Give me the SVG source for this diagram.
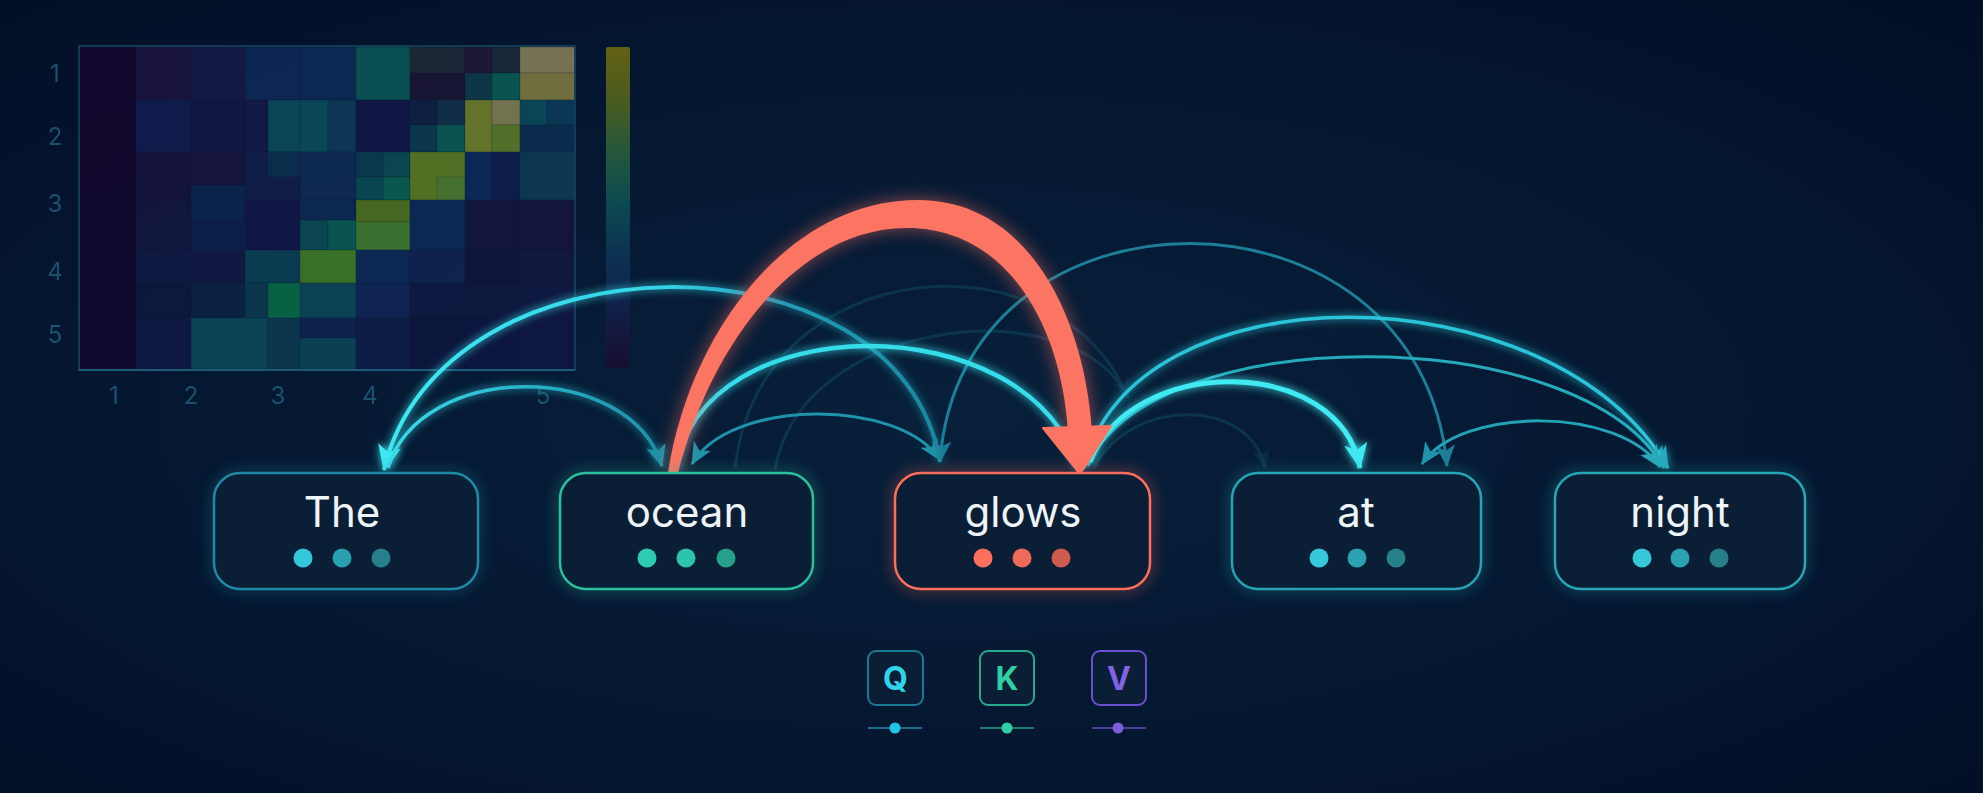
<svg xmlns="http://www.w3.org/2000/svg" width="1983" height="793" viewBox="0 0 1983 793">
<defs>
<radialGradient id="bg" cx="48%" cy="52%" r="75%">
<stop offset="0" stop-color="#08203a"/>
<stop offset="0.6" stop-color="#041630"/>
<stop offset="1" stop-color="#020e25"/>
</radialGradient>
<linearGradient id="cbar" x1="0" y1="0" x2="0" y2="1">
<stop offset="0" stop-color="#7a720c"/>
<stop offset="0.17" stop-color="#5a6c1c"/>
<stop offset="0.33" stop-color="#2c6640"/>
<stop offset="0.48" stop-color="#0e5656"/>
<stop offset="0.63" stop-color="#0e3a5a"/>
<stop offset="0.78" stop-color="#132652"/>
<stop offset="0.9" stop-color="#1a1740"/>
<stop offset="1" stop-color="#1a0c2e"/>
</linearGradient>
<linearGradient id="gA1" gradientUnits="userSpaceOnUse" x1="940" y1="0" x2="384" y2="0">
<stop offset="0" stop-color="#1b86a0"/>
<stop offset="0.3" stop-color="#229fb8"/>
<stop offset="0.5" stop-color="#33d4e6"/>
<stop offset="1" stop-color="#3ee8f2"/>
</linearGradient>
<linearGradient id="gA2" gradientUnits="userSpaceOnUse" x1="388" y1="0" x2="662" y2="0">
<stop offset="0" stop-color="#3adcea"/>
<stop offset="0.5" stop-color="#29b4ca"/>
<stop offset="1" stop-color="#1e8ea6"/>
</linearGradient>
<filter id="glow" x="-20%" y="-30%" width="140%" height="160%">
<feGaussianBlur in="SourceGraphic" stdDeviation="4" result="b"/>
<feMerge><feMergeNode in="b"/><feMergeNode in="SourceGraphic"/></feMerge>
</filter>
<filter id="soft" x="-20%" y="-30%" width="140%" height="160%">
<feGaussianBlur stdDeviation="7"/>
</filter>
<filter id="coralGlow" x="-20%" y="-20%" width="140%" height="140%">
<feGaussianBlur stdDeviation="9"/>
</filter>
<marker id="m-bright" viewBox="0 0 20 20" refX="19" refY="10" markerWidth="26" markerHeight="26" markerUnits="userSpaceOnUse" orient="auto-start-reverse"><path d="M0,1 L20,10 L0,19 L5,10 Z" fill="#3fe8f2"/></marker>
<marker id="m-cyan" viewBox="0 0 20 20" refX="19" refY="10" markerWidth="22" markerHeight="22" markerUnits="userSpaceOnUse" orient="auto-start-reverse"><path d="M0,1 L20,10 L0,19 L5,10 Z" fill="#2ecbdc"/></marker>
<marker id="m-teal" viewBox="0 0 20 20" refX="19" refY="10" markerWidth="22" markerHeight="22" markerUnits="userSpaceOnUse" orient="auto-start-reverse"><path d="M0,1 L20,10 L0,19 L5,10 Z" fill="#1f93ab"/></marker>
<marker id="m-dim" viewBox="0 0 20 20" refX="19" refY="10" markerWidth="22" markerHeight="22" markerUnits="userSpaceOnUse" orient="auto-start-reverse"><path d="M0,1 L20,10 L0,19 L5,10 Z" fill="#1b7d96"/></marker>
<marker id="m-night" viewBox="0 0 20 20" refX="19" refY="10" markerWidth="22" markerHeight="22" markerUnits="userSpaceOnUse" orient="auto-start-reverse"><path d="M0,1 L20,10 L0,19 L5,10 Z" fill="#27a9ba"/></marker>
<marker id="m-faint" viewBox="0 0 20 20" refX="19" refY="10" markerWidth="20" markerHeight="20" markerUnits="userSpaceOnUse" orient="auto-start-reverse"><path d="M0,1 L20,10 L0,19 L5,10 Z" fill="#1a6a82" fill-opacity="0.6"/></marker>
<style>
.box { fill:#0a1f35; stroke-width:2.5; }
.halo { fill:none; stroke-width:6; opacity:0.45; }
.lbl { font-family: Inter, "Noto Sans", sans-serif; font-size:42px; fill:#eef4f8; text-anchor:middle; }
.ax { font-family: Inter, "Noto Sans", sans-serif; font-size:24px; fill:#1c5876; text-anchor:middle; }
.arc { fill:none; stroke-linecap:butt; }
.faint { stroke:#1a6a82; stroke-width:3; opacity:0.3; }
.qkv { font-family: Inter, "Liberation Sans", sans-serif; font-size:32px; font-weight:700; text-anchor:middle; }
.qbox { fill:#0a1e36; stroke-width:2; }
.cells rect { stroke:#0a1430; stroke-width:0.4; stroke-opacity:0.5; }
</style>
</defs>

<rect x="0" y="0" width="1983" height="793" fill="url(#bg)"/>

<g id="heatmap" opacity="0.9">
<g class="cells">
<rect x="80" y="47" width="56" height="53" fill="#14082e"/>
<rect x="136" y="47" width="55" height="53" fill="#1a1440"/>
<rect x="191" y="47" width="54" height="53" fill="#171a48"/>
<rect x="245" y="47" width="55" height="53" fill="#0f2857"/>
<rect x="300" y="47" width="56" height="53" fill="#0f2a58"/>
<rect x="356" y="47" width="54" height="53" fill="#0a5555"/>
<rect x="410" y="47" width="55" height="26" fill="#1e2a38"/>
<rect x="410" y="73" width="55" height="27" fill="#1a1535"/>
<rect x="465" y="47" width="27" height="26" fill="#201a36"/>
<rect x="492" y="47" width="28" height="26" fill="#1a2a38"/>
<rect x="465" y="73" width="27" height="27" fill="#0e3a4a"/>
<rect x="492" y="73" width="28" height="27" fill="#0a5a55"/>
<rect x="520" y="47" width="54.5" height="26" fill="#847c58"/>
<rect x="520" y="73" width="54.5" height="27" fill="#7a7840"/>

<rect x="80" y="100" width="56" height="52" fill="#14082e"/>
<rect x="136" y="100" width="55" height="52" fill="#111d50"/>
<rect x="191" y="100" width="54" height="52" fill="#141845"/>
<rect x="245" y="100" width="23" height="52" fill="#141a48"/>
<rect x="268" y="100" width="32" height="52" fill="#0b4a5c"/>
<rect x="300" y="100" width="28" height="52" fill="#0b4c5c"/>
<rect x="328" y="100" width="28" height="52" fill="#0d3a58"/>
<rect x="356" y="100" width="54" height="52" fill="#131848"/>
<rect x="410" y="100" width="27" height="25" fill="#0f2245"/>
<rect x="437" y="100" width="28" height="25" fill="#12304a"/>
<rect x="410" y="125" width="27" height="27" fill="#0c3a50"/>
<rect x="437" y="125" width="28" height="27" fill="#0a5a55"/>
<rect x="465" y="100" width="27" height="52" fill="#6e7e2a"/>
<rect x="492" y="100" width="28" height="25" fill="#807c52"/>
<rect x="492" y="125" width="28" height="27" fill="#5a7a2a"/>
<rect x="520" y="100" width="27" height="25" fill="#0a4a5c"/>
<rect x="547" y="100" width="27.5" height="25" fill="#0c3a58"/>
<rect x="520" y="125" width="54.5" height="27" fill="#0c2e50"/>

<rect x="80" y="152" width="56" height="48" fill="#14082e"/>
<rect x="136" y="152" width="55" height="48" fill="#151340"/>
<rect x="191" y="152" width="54" height="48" fill="#171540"/>
<rect x="245" y="152" width="55" height="48" fill="#121f4a"/>
<rect x="268" y="152" width="32" height="25" fill="#0c3050"/>
<rect x="300" y="152" width="56" height="48" fill="#0f2a55"/>
<rect x="356" y="152" width="27" height="25" fill="#0c3c52"/>
<rect x="383" y="152" width="27" height="25" fill="#0b4a55"/>
<rect x="356" y="177" width="27" height="23" fill="#0a4a55"/>
<rect x="383" y="177" width="27" height="23" fill="#0a5e52"/>
<rect x="410" y="152" width="55" height="48" fill="#5a7a22"/>
<rect x="437" y="177" width="28" height="23" fill="#4e7a30"/>
<rect x="465" y="152" width="27" height="48" fill="#0c2a58"/>
<rect x="492" y="152" width="28" height="48" fill="#101f4d"/>
<rect x="520" y="152" width="54.5" height="48" fill="#0d3a55"/>

<rect x="80" y="200" width="56" height="50" fill="#14082e"/>
<rect x="136" y="200" width="55" height="50" fill="#13163f"/>
<rect x="191" y="200" width="54" height="50" fill="#0e2250"/>
<rect x="191" y="185" width="54" height="35" fill="#0c2650"/>
<rect x="245" y="200" width="55" height="50" fill="#12184a"/>
<rect x="300" y="200" width="56" height="20" fill="#0e2a52"/>
<rect x="300" y="220" width="28" height="30" fill="#0b4a55"/>
<rect x="328" y="220" width="28" height="30" fill="#0a5a55"/>
<rect x="356" y="200" width="54" height="22" fill="#4e7020"/>
<rect x="356" y="222" width="54" height="28" fill="#3f7a30"/>
<rect x="410" y="200" width="55" height="50" fill="#0b2a58"/>
<rect x="465" y="200" width="55" height="50" fill="#141640"/>
<rect x="520" y="200" width="54.5" height="50" fill="#15153f"/>

<rect x="80" y="250" width="56" height="33" fill="#14082e"/>
<rect x="136" y="250" width="55" height="33" fill="#121a45"/>
<rect x="191" y="250" width="54" height="33" fill="#131a45"/>
<rect x="245" y="250" width="55" height="33" fill="#0c3f55"/>
<rect x="300" y="250" width="56" height="33" fill="#3f7a28"/>
<rect x="356" y="250" width="54" height="33" fill="#0e2a58"/>
<rect x="410" y="250" width="55" height="33" fill="#0f2450"/>
<rect x="465" y="250" width="55" height="33" fill="#11163f"/>
<rect x="520" y="250" width="54.5" height="33" fill="#121842"/>

<rect x="80" y="283" width="56" height="35" fill="#13092e"/>
<rect x="136" y="283" width="55" height="35" fill="#0f173f"/>
<rect x="191" y="283" width="54" height="35" fill="#0d2448"/>
<rect x="245" y="283" width="23" height="35" fill="#0c3a50"/>
<rect x="268" y="283" width="32" height="35" fill="#0a6a48"/>
<rect x="300" y="283" width="56" height="35" fill="#0c4658"/>
<rect x="356" y="283" width="54" height="35" fill="#0f2555"/>
<rect x="410" y="283" width="55" height="35" fill="#0e1a42"/>
<rect x="465" y="283" width="55" height="35" fill="#101840"/>
<rect x="520" y="283" width="54.5" height="35" fill="#111842"/>

<rect x="80" y="318" width="56" height="51" fill="#13092e"/>
<rect x="136" y="318" width="55" height="51" fill="#101a45"/>
<rect x="191" y="318" width="77" height="51" fill="#0b4858"/>
<rect x="268" y="318" width="32" height="51" fill="#0c3a52"/>
<rect x="300" y="318" width="56" height="20" fill="#0e2550"/>
<rect x="300" y="338" width="56" height="31" fill="#0c4458"/>
<rect x="356" y="318" width="54" height="51" fill="#0e1e48"/>
<rect x="410" y="318" width="55" height="51" fill="#0d163f"/>
<rect x="465" y="318" width="55" height="51" fill="#0e1640"/>
<rect x="520" y="318" width="54.5" height="51" fill="#0f1742"/>
</g>
<rect x="79" y="46" width="496" height="324" fill="none" stroke="#1b4e6a" stroke-width="1.5"/>
<line x1="79" y1="370" x2="575" y2="370" stroke="#1f6282" stroke-width="2"/>
<rect x="606" y="47" width="24" height="321" rx="2" fill="url(#cbar)" opacity="0.9"/>
<text class="ax" x="55" y="82">1</text>
<text class="ax" x="55" y="145">2</text>
<text class="ax" x="55" y="212">3</text>
<text class="ax" x="55" y="280">4</text>
<text class="ax" x="55" y="343">5</text>
<text class="ax" x="114" y="404">1</text>
<text class="ax" x="191" y="404">2</text>
<text class="ax" x="278" y="404">3</text>
<text class="ax" x="370" y="404">4</text>
<text class="ax" x="543" y="404">5</text>
</g>

<g id="connectors">
<path class="arc faint" d="M 735 468 C 760 250, 1060 230, 1128 398" marker-end="url(#m-faint)"/>
<path class="arc faint" d="M 775 470 C 800 320, 1060 290, 1122 388" opacity="0.2"/>
<path class="arc faint" d="M 1094 468 C 1130 397, 1250 397, 1265 468" marker-end="url(#m-faint)"/>
<path class="arc" d="M 1447 466 C 1420 170, 960 170, 940 462" stroke="#1b7f98" stroke-width="3" marker-start="url(#m-dim)" marker-end="url(#m-dim)"/>
<path class="arc" d="M 940 460 C 900 398, 730 398, 692 464" stroke="#1f93ab" stroke-width="3" marker-start="url(#m-teal)" marker-end="url(#m-teal)"/>
<path class="arc" d="M 940 462 C 900 225, 440 230, 384 470" stroke="url(#gA1)" stroke-width="4" marker-end="url(#m-bright)" filter="url(#glow)"/>
<path class="arc" d="M 388 468 C 420 360, 630 360, 662 466" stroke="url(#gA2)" stroke-width="3.5" marker-end="url(#m-teal)" filter="url(#glow)"/>
<path class="arc" d="M 676 470 C 700 305, 1030 305, 1078 468" stroke="#36dcea" stroke-width="4.5" filter="url(#glow)"/>
<path class="arc" d="M 1088 466 C 1150 320, 1580 320, 1664 468" stroke="#24aabb" stroke-width="3" marker-end="url(#m-night)"/>
<path class="arc" d="M 1084 468 C 1130 267, 1550 267, 1668 468" stroke="#2bc4d8" stroke-width="3.5" marker-start="url(#m-cyan)" marker-end="url(#m-night)" filter="url(#glow)"/>
<path class="arc" d="M 1422 464 C 1460 406, 1620 406, 1660 467" stroke="#22a2b5" stroke-width="3" marker-start="url(#m-teal)" marker-end="url(#m-night)"/>
<path class="arc" d="M 1090 462 C 1130 354, 1340 354, 1360 468" stroke="#40eaf2" stroke-width="5" marker-end="url(#m-bright)" filter="url(#glow)"/>
<g id="coral">
<path d="M 668 473 C 690 330, 790 200, 918 200 C 1030 200, 1085 320, 1092 432 L 1068 432 C 1062 330, 1010 228, 907 228 C 800 228, 712 340, 678 473 Z" fill="#ff6f5e" opacity="0.55" filter="url(#coralGlow)"/>
<path d="M 668 473 C 690 330, 790 200, 918 200 C 1030 200, 1085 320, 1092 432 L 1068 432 C 1062 330, 1010 228, 907 228 C 800 228, 712 340, 678 473 Z" fill="#fc7462"/>
<path d="M 1043 428 L 1111 426 L 1080 474 Z" fill="#fc7462" stroke="#fc7462" stroke-width="2" stroke-linejoin="round"/>
</g>
</g>

<g id="node-the">
<rect class="halo" x="214" y="473" width="264" height="116" rx="26" stroke="#1e8aa5" filter="url(#soft)"/>
<rect class="box" x="214" y="473" width="264" height="116" rx="26" stroke="#1e8aa5"/>
<text class="lbl" x="342" y="527">The</text>
<circle cx="303" cy="558" r="9.5" fill="#34c6da"/>
<circle cx="342" cy="558" r="9.5" fill="#29a0b0"/>
<circle cx="381" cy="558" r="9.5" fill="#267f8a"/>
</g>
<g id="node-ocean">
<rect class="halo" x="560" y="473" width="253" height="116" rx="26" stroke="#2bc09c" filter="url(#soft)"/>
<rect class="box" x="560" y="473" width="253" height="116" rx="26" stroke="#2bc09c"/>
<text class="lbl" x="687" y="527">ocean</text>
<circle cx="647" cy="558" r="9.5" fill="#2fcbb0"/>
<circle cx="686" cy="558" r="9.5" fill="#2cc4aa"/>
<circle cx="726" cy="558" r="9.5" fill="#26a08a"/>
</g>
<g id="node-glows">
<rect class="halo" x="895" y="473" width="255" height="116" rx="26" stroke="#ff6e5c" filter="url(#soft)"/>
<rect class="box" x="895" y="473" width="255" height="116" rx="26" stroke="#ff6e5c"/>
<text class="lbl" x="1023" y="527">glows</text>
<circle cx="983" cy="558" r="9.5" fill="#ff6f5e"/>
<circle cx="1022" cy="558" r="9.5" fill="#ef6a5a"/>
<circle cx="1061" cy="558" r="9.5" fill="#cf5a50"/>
</g>
<g id="node-at">
<rect class="halo" x="1232" y="473" width="249" height="116" rx="26" stroke="#26a4b5" filter="url(#soft)"/>
<rect class="box" x="1232" y="473" width="249" height="116" rx="26" stroke="#26a4b5"/>
<text class="lbl" x="1356" y="527">at</text>
<circle cx="1319" cy="558" r="9.5" fill="#36c8d8"/>
<circle cx="1357" cy="558" r="9.5" fill="#2aa2b0"/>
<circle cx="1396" cy="558" r="9.5" fill="#26808a"/>
</g>
<g id="node-night">
<rect class="halo" x="1555" y="473" width="250" height="116" rx="26" stroke="#27a7b5" filter="url(#soft)"/>
<rect class="box" x="1555" y="473" width="250" height="116" rx="26" stroke="#27a7b5"/>
<text class="lbl" x="1680" y="527">night</text>
<circle cx="1642" cy="558" r="9.5" fill="#36c8d8"/>
<circle cx="1680" cy="558" r="9.5" fill="#2aa2b0"/>
<circle cx="1719" cy="558" r="9.5" fill="#26808a"/>
</g>

<g id="legend-q">
<rect class="qbox" x="868" y="651" width="55" height="54" rx="8" stroke="#1a7a92"/>
<text class="qkv" x="895.5" y="690" fill="#2fd5ea">Q</text>
<line x1="868" y1="728" x2="922" y2="728" stroke="#1a6f8a" stroke-width="2"/>
<circle cx="895" cy="728" r="5.5" fill="#22c4e6"/>
</g>
<g id="legend-k">
<rect class="qbox" x="980" y="651" width="54" height="54" rx="8" stroke="#28a888"/>
<text class="qkv" x="1007" y="690" fill="#2ecfa3">K</text>
<line x1="980" y1="728" x2="1034" y2="728" stroke="#1a7f6f" stroke-width="2"/>
<circle cx="1007" cy="728" r="5.5" fill="#2ed0a8"/>
</g>
<g id="legend-v">
<rect class="qbox" x="1092" y="651" width="54" height="54" rx="8" stroke="#6a4fd0"/>
<text class="qkv" x="1119" y="690" fill="#8062e2">V</text>
<line x1="1092" y1="728" x2="1146" y2="728" stroke="#4a3e9a" stroke-width="2"/>
<circle cx="1118" cy="728" r="5.5" fill="#7a5ee0"/>
</g>
</svg>
